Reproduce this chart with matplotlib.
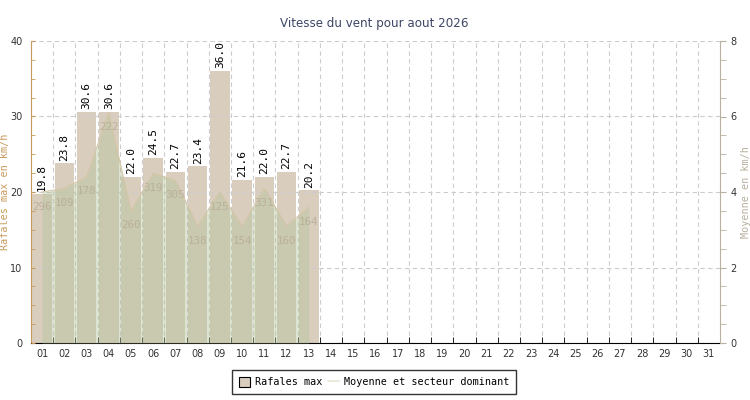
import matplotlib

matplotlib.use("Agg")

import matplotlib.pyplot as plt
from matplotlib.lines import Line2D
from matplotlib.patches import Patch
from matplotlib.ticker import FixedLocator, MultipleLocator

# Données du mois (jours relevés seulement)
days = list(range(1, 14))
gusts = [19.8, 23.8, 30.6, 30.6, 22.0, 24.5, 22.7, 23.4, 36.0, 21.6, 22.0, 22.7, 20.2]
mean_speed = [4.0, 4.1, 4.4, 6.1, 3.5, 4.5, 4.3, 3.1, 4.0, 3.1, 4.1, 3.1, 3.6]
direction = ["296", "109", "178", "222", "260", "319", "305", "138", "125", "154", "331", "160", "164"]
day_labels = [f"{d:02d}" for d in range(1, 32)]

BAR_COLOR = "#d9cebe"
AREA_COLOR = "#b4c49c"
LINE_COLOR = "#d4c6a6"
DIR_COLOR = "#bab09a"
LEFT_COLOR = "#c8995c"
RIGHT_COLOR = "#b8b0a0"
GRID_COLOR = "#cccccc"
MONO = "DejaVu Sans Mono"

fig = plt.figure(figsize=(7.5, 4.0), dpi=100)
ax = fig.add_axes([0.0413, 0.1425, 0.9187, 0.755])
ax2 = ax.twinx()

ax.bar(days, gusts, width=0.88, color=BAR_COLOR, zorder=2)
for d, g in zip(days, gusts):
    ax.annotate(f"{g:.1f}", (d, g), xytext=(0, 2), textcoords="offset points",
                rotation=90, ha="center", va="bottom", fontsize=8,
                family=MONO, color="black", zorder=5)

ax.set_xlim(0.5, 31.5)
ax.set_ylim(0, 40)
ax.xaxis.set_major_locator(FixedLocator(range(1, 32)))
ax.set_xticklabels(day_labels)
ax.xaxis.set_minor_locator(FixedLocator([d + 0.5 for d in range(1, 31)]))
ax.tick_params(axis="x", which="major", length=0, labelsize=7, colors="#333333", pad=4)
ax.tick_params(axis="x", which="minor", length=4, direction="in", color="black")
ax.yaxis.set_major_locator(MultipleLocator(10))
ax.yaxis.set_minor_locator(MultipleLocator(2.5))
ax.tick_params(axis="y", which="both", direction="in", color=LEFT_COLOR, labelsize=7,
               labelcolor="#333333", length=3, pad=6)

ax.grid(True, axis="y", which="major", linestyle=(0, (4, 3)), color=GRID_COLOR, linewidth=0.8, zorder=0)
ax.grid(True, axis="x", which="minor", linestyle=(0, (4, 3)), color=GRID_COLOR, linewidth=0.8, zorder=3)
ax.set_axisbelow(False)
ax.spines["top"].set_visible(False)
ax.spines["right"].set_visible(False)
ax.spines["left"].set_color(LEFT_COLOR)
ax.spines["bottom"].set_color("black")
ax.set_ylabel("Rafales max en km/h", color=LEFT_COLOR, fontsize=7.3, family=MONO)
ax.yaxis.set_label_coords(-0.0305, 0.5)

ax2.fill_between(days, mean_speed, color=AREA_COLOR, alpha=0.45, linewidth=0, zorder=2)
ax2.plot(days, mean_speed, color=LINE_COLOR, linewidth=0.8, zorder=3)
for d, m, s in zip(days, mean_speed, direction):
    ax2.annotate(s, (d, m), xytext=(0, -10.5), textcoords="offset points",
                 ha="center", va="center", fontsize=7.8, family=MONO,
                 color=DIR_COLOR, zorder=4)
ax2.set_ylim(0, 8)
ax2.yaxis.set_major_locator(MultipleLocator(2))
ax2.yaxis.set_minor_locator(MultipleLocator(0.5))
ax2.tick_params(axis="y", which="both", direction="out", color=RIGHT_COLOR, labelsize=7,
                labelcolor="#333333", length=4)
for side in ("top", "left", "bottom"):
    ax2.spines[side].set_visible(False)
ax2.spines["right"].set_color(RIGHT_COLOR)
ax2.set_ylabel("Moyenne en km/h", color=RIGHT_COLOR, fontsize=7.3, family=MONO)
ax2.yaxis.set_label_coords(1.03, 0.5)

fig.suptitle("Vitesse du vent pour aout 2026", x=0.4987, y=0.94, fontsize=8.6,
             color="#3d4766", va="center")

handles = [
    Patch(facecolor=BAR_COLOR, edgecolor="black", linewidth=0.8, label="Rafales max"),
    Line2D([], [], color="#ece6da", linewidth=1.2, label="Moyenne et secteur dominant"),
]
leg = fig.legend(handles=handles, loc="center", bbox_to_anchor=(0.4987, 0.045),
                 ncol=2, frameon=True, fancybox=False, edgecolor="black",
                 prop={"family": MONO, "size": 7.3},
                 handlelength=1.1, handleheight=1.1, columnspacing=0.5, handletextpad=0.5,
                 borderpad=0.7)
leg.get_frame().set_linewidth(1.0)

fig.savefig("out.png", dpi=100)
